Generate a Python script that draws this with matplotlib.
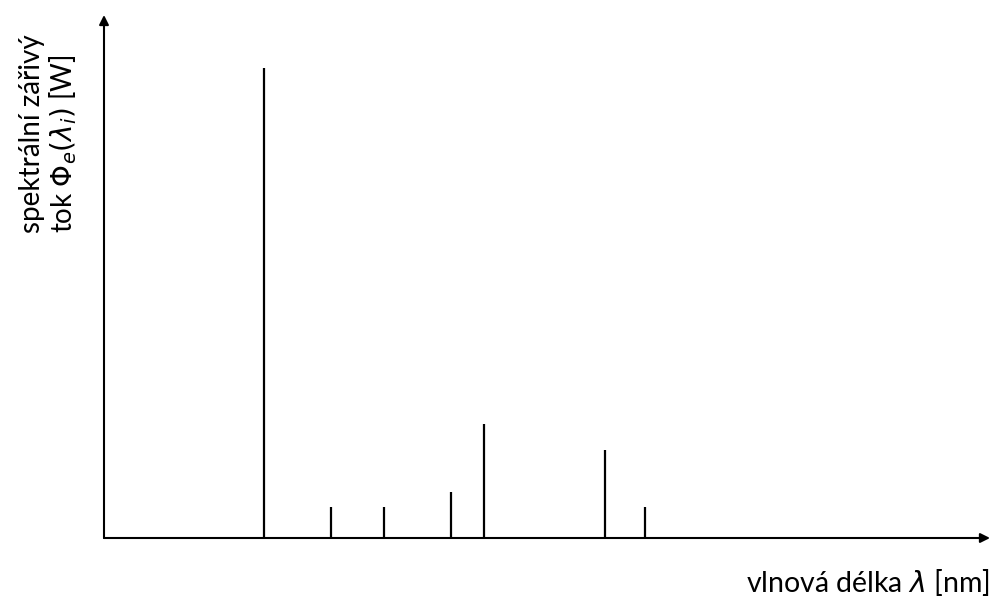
import matplotlib
matplotlib.use("Agg")
import matplotlib.pyplot as plt

# Spectral line positions (arbitrary wavelength units along the axis) and heights (arbitrary flux units)
line_positions = [18.1, 25.6, 31.6, 39.2, 42.9, 56.6, 61.1]
line_heights = [89.9, 5.9, 5.9, 8.8, 21.8, 16.8, 5.9]

x_label = "vlnová délka $\\lambda$ [nm]"
y_label_1 = "spektrální zářivý"
y_label_2 = "tok $\\Phi_e(\\lambda_i)$ [W]"

plt.rcParams['font.family'] = ['Lato', 'DejaVu Sans']
plt.rcParams['mathtext.fontset'] = 'dejavusans'

W, H = 993, 603
fig = plt.figure(figsize=(W / 100, H / 100), dpi=100)
x0, x1 = 104, 990
y0, y1 = 538, 15
ax = fig.add_axes([x0 / W, (H - y0) / H, (x1 - x0) / W, (y0 - y1) / H])
ax.set_xlim(0, 100)
ax.set_ylim(0, 100)
for s in ax.spines.values():
    s.set_visible(False)
ax.set_xticks([])
ax.set_yticks([])

ax.vlines(line_positions, 0, line_heights, colors='black', linewidth=1.6)

# axes with arrows
ax.annotate('', xy=(1, 0), xytext=(0, 0), xycoords='axes fraction',
            arrowprops=dict(arrowstyle='-|>', color='black', lw=1.5,
                            mutation_scale=14, shrinkA=0, shrinkB=0))
ax.annotate('', xy=(0, 1), xytext=(0, 0), xycoords='axes fraction',
            arrowprops=dict(arrowstyle='-|>', color='black', lw=1.5,
                            mutation_scale=14, shrinkA=0, shrinkB=0))

fig.text(990 / W, 1 - 582 / H, x_label, ha='right', va='center', fontsize=20.5)
fig.text(32 / W, 1 - 233 / H, y_label_1, ha='center', va='bottom',
         rotation=90, fontsize=20)
fig.text(63 / W, 1 - 233 / H, y_label_2, ha='center', va='bottom',
         rotation=90, fontsize=20)

fig.savefig('out.png', dpi=100, facecolor='white')
